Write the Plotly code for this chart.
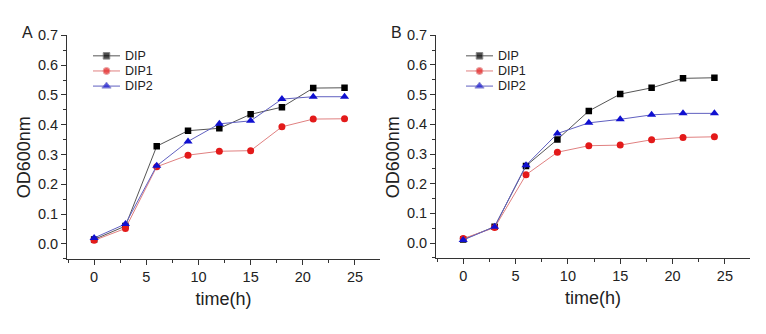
import plotly.graph_objects as go

time_h = [0, 3, 6, 9, 12, 15, 18, 21, 24]
series_names = ["DIP", "DIP1", "DIP2"]

a_dip = [0.015, 0.060, 0.328, 0.380, 0.388, 0.435, 0.459, 0.523, 0.524]
a_dip1 = [0.012, 0.052, 0.259, 0.298, 0.311, 0.313, 0.393, 0.419, 0.420]
a_dip2 = [0.020, 0.067, 0.262, 0.344, 0.403, 0.413, 0.486, 0.494, 0.494]

b_dip = [0.012, 0.055, 0.260, 0.349, 0.445, 0.502, 0.523, 0.555, 0.557]
b_dip1 = [0.015, 0.052, 0.230, 0.306, 0.328, 0.330, 0.348, 0.356, 0.358]
b_dip2 = [0.010, 0.055, 0.262, 0.369, 0.405, 0.417, 0.432, 0.437, 0.437]

panel_labels = ["A", "B"]
x_title = "time(h)"
y_title = "OD600nm"

colors = ["#000000", "#e31a1a", "#1010d0"]
line_colors = ["#555555", "#e08080", "#6060c0"]
symbols = ["square", "circle", "triangle-up"]
msizes = [6.5, 7, 8]

W, H = 766, 334
fig = go.Figure()

def px_x(p):
    return p / W

def px_y(p):
    return 1 - p / H

panels = [
    dict(data=[a_dip, a_dip1, a_dip2], xd=(67, 380), yd=(28, 257), xa="x", ya="y", leg=(93, 49), ytx=24),
    dict(data=[b_dip, b_dip1, b_dip2], xd=(436, 750), yd=(28, 256), xa="x2", ya="y2", leg=(466, 49), ytx=393),
]

font = "Liberation Sans, Arial, sans-serif"
tc = "#222222"

for pi, p in enumerate(panels):
    for si, vals in enumerate(p["data"]):
        fig.add_trace(go.Scatter(
            x=time_h, y=vals, mode="lines+markers", name=series_names[si],
            xaxis=p["xa"], yaxis=p["ya"], showlegend=False,
            line=dict(color=line_colors[si], width=1),
            marker=dict(symbol=symbols[si], size=msizes[si], color=colors[si]),
        ))
    sfx = "" if pi == 0 else "2"
    axis_common = dict(
        showline=True, linecolor="#333333", linewidth=1, ticks="outside", ticklen=5,
        tickcolor="#333333", showgrid=False, zeroline=False, mirror=False,
        tickfont=dict(family=font, size=14.5, color=tc),
    )
    fig.update_layout(**{
        "xaxis" + sfx: dict(
            domain=[px_x(p["xd"][0]), px_x(p["xd"][1])], anchor="y" + sfx,
            range=[-2.6, 27.4], tickvals=[0, 5, 10, 15, 20, 25],
            minor=dict(ticks="outside", ticklen=3, dtick=2.5, tick0=0, tickcolor="#333333"),
            title=dict(text=x_title, font=dict(family=font, size=18, color=tc), standoff=8),
            **axis_common),
        "yaxis" + sfx: dict(
            domain=[px_y(p["yd"][1]), px_y(p["yd"][0])], anchor="x" + sfx,
            range=[-0.05, 0.7], tickvals=[0, 0.1, 0.2, 0.3, 0.4, 0.5, 0.6, 0.7],
            tickformat=".1f",
            minor=dict(ticks="outside", ticklen=3, dtick=0.05, tick0=0, tickcolor="#333333"),
            **axis_common),
    })
    # y title
    fig.add_annotation(text=y_title, x=px_x(p["ytx"]), y=px_y(153), textangle=-90,
                       xref="paper", yref="paper", showarrow=False, xanchor="center", yanchor="middle",
                       font=dict(family=font, size=18, color=tc))
    # panel letter
    fig.add_annotation(text=panel_labels[pi], x=px_x(p["xd"][0] - 47), y=px_y(25),
                       xref="paper", yref="paper", showarrow=False, xanchor="left", yanchor="middle",
                       font=dict(family=font, size=16, color=tc))
    # legend
    lx, ly = p["leg"]
    for si in range(3):
        yy = ly + si * 15.5
        fig.add_trace(go.Scatter(
            x=[px_x(lx), px_x(lx + 13.5), px_x(lx + 27)], y=[px_y(yy)] * 3,
            xaxis="x3", yaxis="y3", mode="lines+markers", showlegend=False, hoverinfo="skip",
            line=dict(color=line_colors[si], width=1),
            marker=dict(symbol=symbols[si], size=[0, msizes[si], 0], color=colors[si]),
        ))
        fig.add_annotation(text=series_names[si], x=px_x(lx + 30), y=px_y(yy),
                           xref="paper", yref="paper", showarrow=False, xanchor="left", yanchor="middle",
                           font=dict(family=font, size=12.5, color=tc))

fig.update_layout(
    xaxis3=dict(domain=[0, 1], range=[0, 1], visible=False, anchor="y3"),
    yaxis3=dict(domain=[0, 1], range=[0, 1], visible=False, anchor="x3"),
    width=W, height=H, margin=dict(l=0, r=0, t=0, b=0),
    paper_bgcolor="white", plot_bgcolor="rgba(0,0,0,0)",
    showlegend=False,
)

fig.write_html("out.html")
